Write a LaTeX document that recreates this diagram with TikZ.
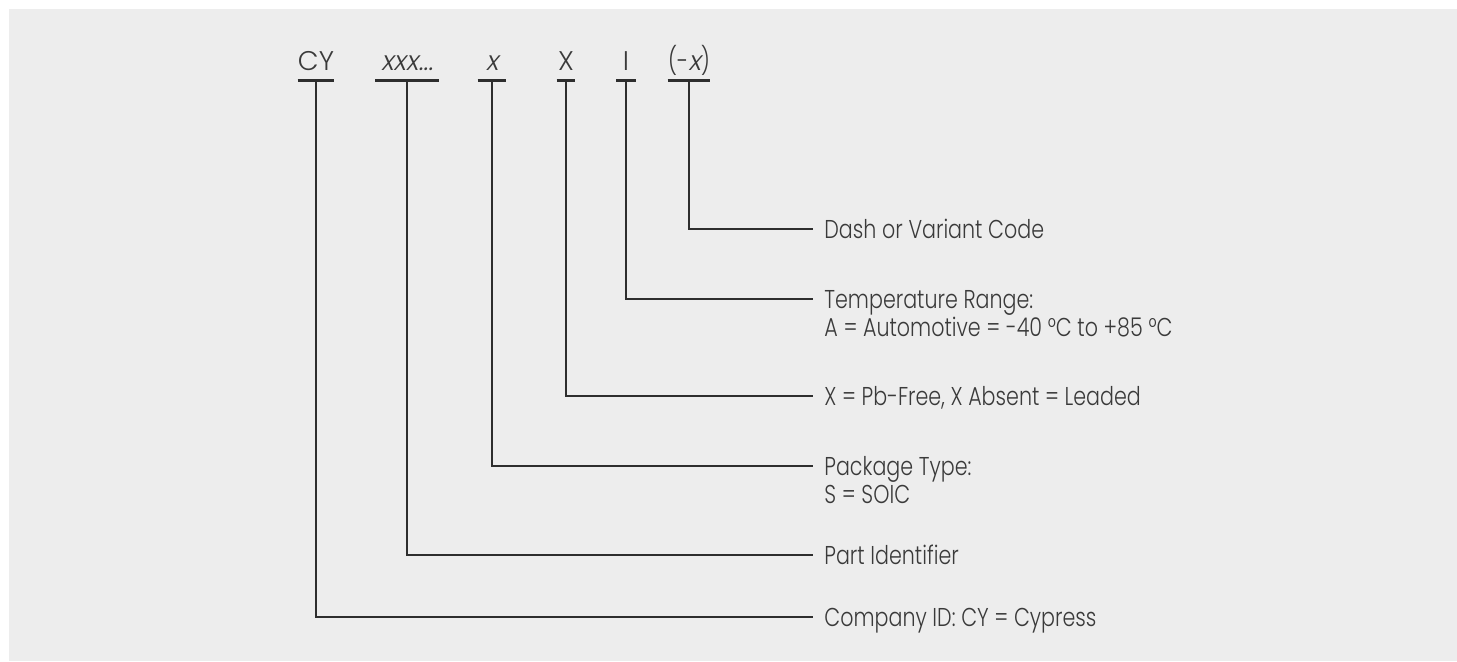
\documentclass[tikz,border=0pt]{standalone}
\usepackage{fontspec}
\setmainfont{Poppins}[UprightFont={* Light},FakeStretch=0.8]
\newfontfamily\codefont{Poppins}[UprightFont={* Light}]
\newfontfamily\slantfont{Poppins}[UprightFont={* Light},FakeSlant=0.2]
\usetikzlibrary{positioning,calc}
\definecolor{ink}{HTML}{3A3A3A}
\definecolor{wire}{HTML}{2E2E2E}
\definecolor{panel}{HTML}{EDEDED}

\begin{document}
\begin{tikzpicture}[x=0.5pt,y=-0.5pt,
  code/.style={inner sep=0pt,anchor=base,text=ink,font=\codefont\fontsize{13.5}{15}\selectfont},
  note/.style={inner xsep=5.5pt,inner ysep=0pt,text height=9pt,text depth=0pt,anchor=west,
    text=ink,font=\fontsize{12.9}{15}\selectfont},
  bar/.style={draw=wire,line width=1.5pt},
  lead/.style={draw=wire,line width=0.75pt}]

    % panel
    \fill[white] (0,0) rectangle (1457,661);
    \fill[panel] (9,9) rectangle (1457,661);

    % part number fields
    \node[code,minimum width=17pt](cy) at (316,70){CY};
    \node[code,minimum width=31.5pt](part) at (407,70){\slantfont xxx...};
    \node[code,minimum width=14pt](pkg) at (492,70){\slantfont x};
    \node[code,minimum width=9pt](pb) at (566,70){X};
    \node[code,minimum width=9.5pt](temp) at (626,70){I};
    \node[code,minimum width=16pt,font=\fontsize{13.5}{15}\selectfont](dash) at (689,70){(-{\slantfont x})};

    \draw[bar]([yshift=-5pt]cy.base west) -- ([yshift=-5pt]cy.base east);
    \draw[bar]([yshift=-5pt]part.base west) -- ([yshift=-5pt]part.base east);
    \draw[bar]([yshift=-5pt]pkg.base west) -- ([yshift=-5pt]pkg.base east);
    \draw[bar]([yshift=-5pt]pb.base west) -- ([yshift=-5pt]pb.base east);
    \draw[bar]([yshift=-5pt]temp.base west) -- ([yshift=-5pt]temp.base east);
    \draw[bar]([yshift=-5pt]dash.base west) -- ([yshift=-5pt]dash.base east);

    % descriptions
    \node[note](dashtext) at (813,229){Dash or Variant Code};
    \node[note](temptext) at (813,299){Temperature Range:};
    \node[note,anchor=base west](temprange) at ([yshift=-14pt]temptext.base west){A = Automotive = -40 °C to +85 °C};
    \node[note](pbtext) at (813,396){X = Pb-Free, X Absent = Leaded};
    \node[note](pkgtext) at (813,466){Package Type:};
    \node[note,anchor=base west](pkgsoic) at ([yshift=-14pt]pkgtext.base west){S = SOIC};
    \node[note](parttext) at (813,555){Part Identifier};
    \node[note](cytext) at (813,617){Company ID: CY = Cypress};

    \draw[lead]([yshift=-5pt]dash.base) |- (dashtext.west);
    \draw[lead]([yshift=-5pt]temp.base) |- (temptext.west);
    \draw[lead]([yshift=-5pt]pb.base) |- (pbtext.west);
    \draw[lead]([yshift=-5pt]pkg.base) |- (pkgtext.west);
    \draw[lead]([yshift=-5pt]part.base) |- (parttext.west);
    \draw[lead]([yshift=-5pt]cy.base) |- (cytext.west);
\end{tikzpicture}
\end{document}
